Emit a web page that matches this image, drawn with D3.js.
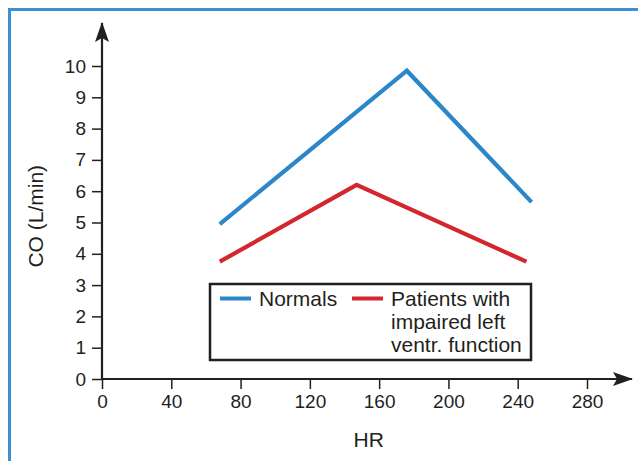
<!DOCTYPE html>
<html>
<head>
<meta charset="utf-8">
<script src="https://cdn.jsdelivr.net/npm/d3@7"></script>
<style>
  html, body { margin: 0; padding: 0; background: #fff; }
  svg { display: block; }
  text { font-family: "Liberation Sans", Arial, Helvetica, sans-serif; fill: #231f20; }
</style>
</head>
<body>
<svg id="chart" width="638" height="461"></svg>
<script>
// Cardiac output vs heart rate
const hrNormal = [68, 176, 248];
const coNormal = [4.95, 9.85, 5.65];
const hrImpaired = [68, 147, 245];
const coImpaired = [3.75, 6.2, 3.75];
const xTicks = [0, 40, 80, 120, 160, 200, 240, 280];
const yTicks = [0, 1, 2, 3, 4, 5, 6, 7, 8, 9, 10];
const seriesNames = ["Normals", "Patients with|impaired left|ventr. function"];
const seriesColors = ["#2b87c8", "#d4262d"];

const svg = d3.select("#chart");
const ink = "#231f20";

// outer frame
svg.append("rect")
  .attr("x", 9.5).attr("y", 9.5)
  .attr("width", 660).attr("height", 480)
  .attr("fill", "none")
  .attr("stroke", "#3b8fd2")
  .attr("stroke-width", 3);

const x = d3.scaleLinear().domain([0, 280]).range([102, 587]);
const y = d3.scaleLinear().domain([0, 10]).range([379, 66]);

// arrowhead
const defs = svg.append("defs");
defs.append("marker")
  .attr("id", "arrow")
  .attr("viewBox", "0 0 20 14")
  .attr("refX", 19).attr("refY", 7)
  .attr("markerWidth", 20).attr("markerHeight", 14)
  .attr("markerUnits", "userSpaceOnUse")
  .attr("orient", "auto")
  .append("path")
  .attr("d", "M0,0 L20,7 L0,14 L4,7 Z")
  .attr("fill", ink);

// x axis
const xAxis = svg.append("g")
  .attr("transform", `translate(0,${y(0)})`)
  .call(d3.axisBottom(x).tickValues(xTicks).tickSize(10).tickSizeOuter(0).tickPadding(6));
xAxis.select(".domain").remove();
xAxis.selectAll(".tick line").attr("stroke", ink).attr("stroke-width", 1.5);
xAxis.selectAll(".tick text")
  .style("font-size", "19px")
  .attr("fill", ink);

// y axis
const yAxis = svg.append("g")
  .attr("transform", `translate(${x(0)},0)`)
  .call(d3.axisLeft(y).tickValues(yTicks).tickSize(10).tickSizeOuter(0).tickPadding(6));
yAxis.select(".domain").remove();
yAxis.selectAll(".tick line").attr("stroke", ink).attr("stroke-width", 1.5);
yAxis.selectAll(".tick text")
  .style("font-size", "19px")
  .attr("fill", ink);

// axis lines with arrows
svg.append("line")
  .attr("x1", x(0) - 1).attr("y1", y(0))
  .attr("x2", 632).attr("y2", y(0))
  .attr("stroke", ink).attr("stroke-width", 2.2)
  .attr("marker-end", "url(#arrow)");
svg.append("line")
  .attr("x1", x(0)).attr("y1", y(0) + 1)
  .attr("x2", x(0)).attr("y2", 23)
  .attr("stroke", ink).attr("stroke-width", 2.2)
  .attr("marker-end", "url(#arrow)");

// axis titles
svg.append("text")
  .attr("x", x(154)).attr("y", 447)
  .attr("text-anchor", "middle")
  .style("font-size", "21px")
  .text("HR");
svg.append("text")
  .attr("transform", `translate(43,${y(5.2)}) rotate(-90)`)
  .attr("text-anchor", "middle")
  .style("font-size", "21px")
  .text("CO (L/min)");

// series lines
const line = d3.line().x(d => x(d[0])).y(d => y(d[1]));
const series = [
  d3.zip(hrNormal, coNormal),
  d3.zip(hrImpaired, coImpaired)
];
series.forEach((pts, i) => {
  svg.append("path")
    .datum(pts)
    .attr("d", line)
    .attr("fill", "none")
    .attr("stroke", seriesColors[i])
    .attr("stroke-width", 4.2)
    .attr("stroke-linejoin", "miter")
    .attr("stroke-linecap", "butt");
});

// legend
const lg = svg.append("g");
lg.append("rect")
  .attr("x", 210).attr("y", 284)
  .attr("width", 321).attr("height", 76)
  .attr("fill", "#fff")
  .attr("stroke", ink)
  .attr("stroke-width", 2.5);

const legendItems = [
  { lx: 220, tx: 259 },
  { lx: 352, tx: 391 }
];
legendItems.forEach((it, i) => {
  lg.append("line")
    .attr("x1", it.lx).attr("x2", it.lx + 31)
    .attr("y1", 298.5).attr("y2", 298.5)
    .attr("stroke", seriesColors[i])
    .attr("stroke-width", 4);
  const t = lg.append("text")
    .attr("x", it.tx).attr("y", 306)
    .style("font-size", "21px");
  seriesNames[i].split("|").forEach((s, k) => {
    t.append("tspan").attr("x", it.tx).attr("dy", k === 0 ? 0 : 23).text(s);
  });
});
</script>
</body>
</html>
